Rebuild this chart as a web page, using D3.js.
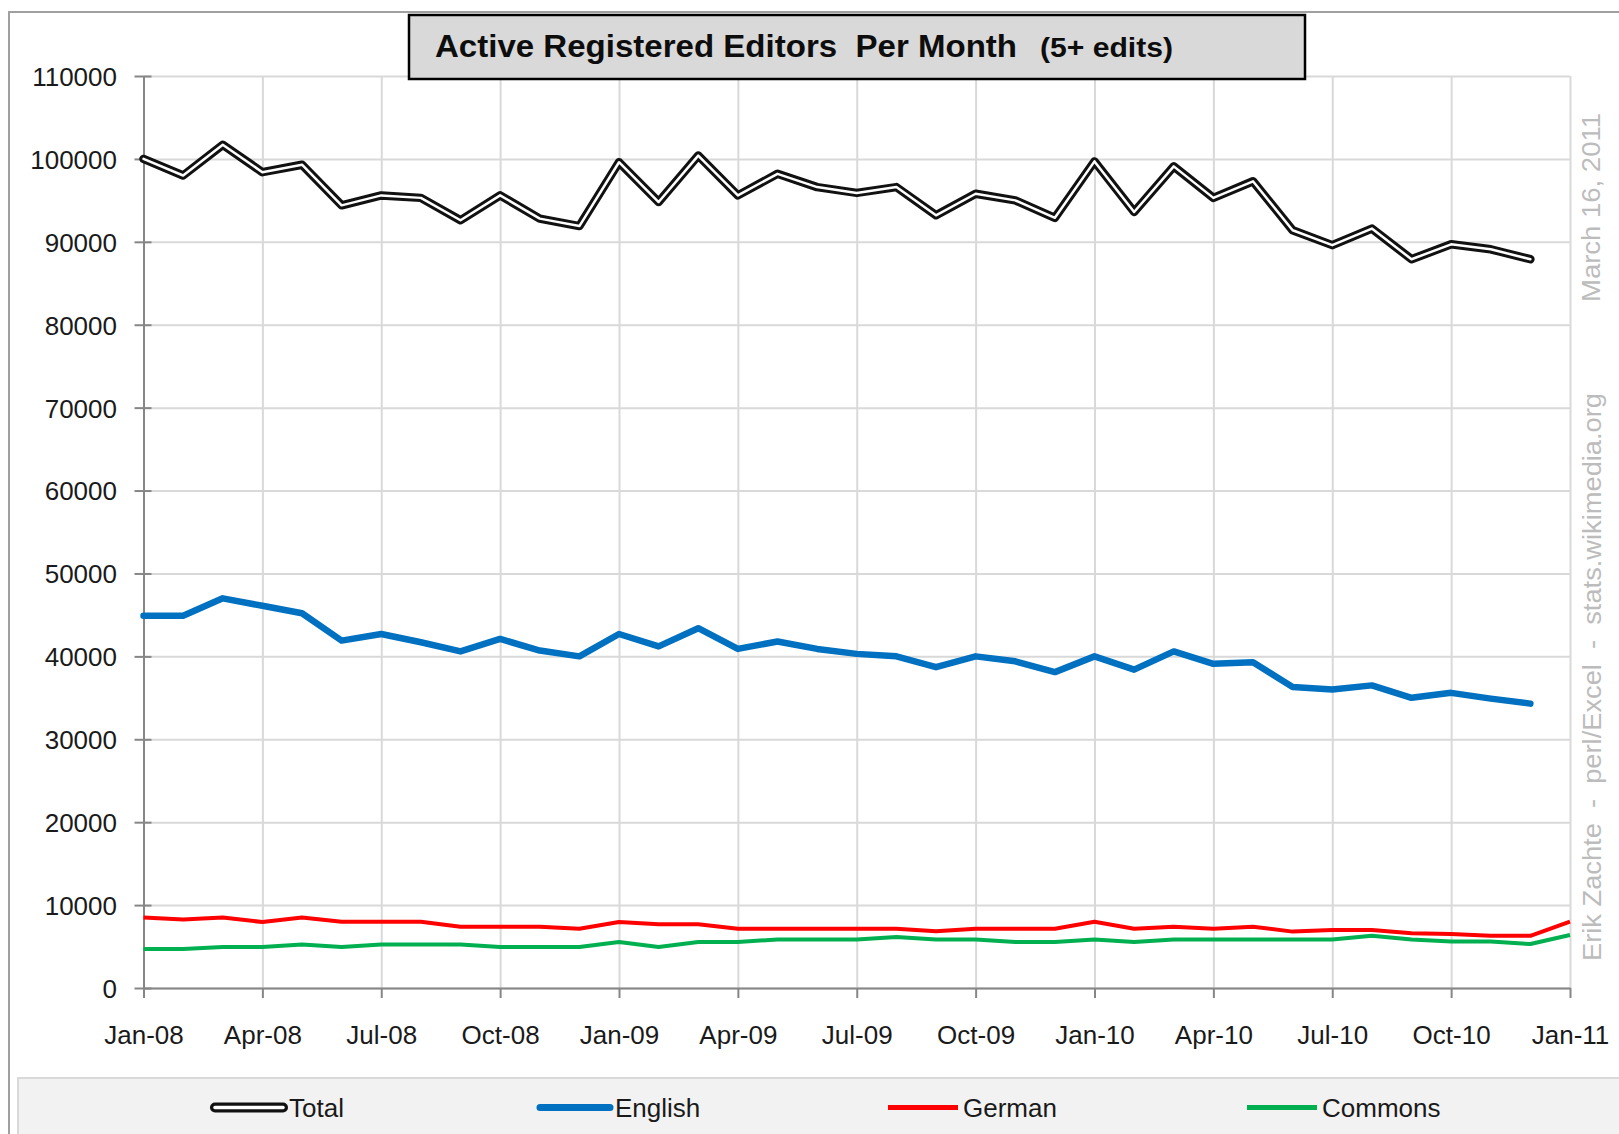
<!DOCTYPE html>
<html lang="en">
<head>
    <meta charset="UTF-8">
    <script src="https://d3js.org/d3.v7.min.js"></script>
    <style>
        body {margin: 0; background-color: #ffffff}
        svg {display: block}
        text {font-family: "Liberation Sans", Arial, sans-serif}
    </style>
</head>
<body>
<svg class="chart" width="1619" height="1134"></svg>
<script type="text/javascript">
    // month index 0 = Jan-08
    const tickLabels = ['Jan-08', 'Apr-08', 'Jul-08', 'Oct-08', 'Jan-09', 'Apr-09', 'Jul-09',
        'Oct-09', 'Jan-10', 'Apr-10', 'Jul-10', 'Oct-10', 'Jan-11'];
    const yTicks = [0, 10000, 20000, 30000, 40000, 50000, 60000, 70000, 80000, 90000, 100000, 110000];

    const total = [100000, 98000, 101700, 98400, 99300, 94400, 95600, 95300, 92600, 95600, 92800, 91900,
        99600, 94800, 100400, 95600, 98200, 96600, 95900, 96600, 93200, 95800, 95000, 92900,
        99700, 93600, 99100, 95300, 97300, 91400, 89600, 91600, 87900, 89700, 89100, 87900];
    const english = [44900, 44900, 47000, 46100, 45200, 41900, 42700, 41700, 40600, 42100, 40700, 40000,
        42700, 41200, 43400, 40900, 41800, 40900, 40300, 40000, 38700, 40000, 39400, 38100,
        40000, 38400, 40600, 39100, 39300, 36300, 36000, 36500, 35000, 35600, 34900, 34300];
    const german = [8500, 8250, 8500, 7950, 8500, 8000, 8000, 8000, 7400, 7400, 7400, 7150,
        7950, 7700, 7700, 7150, 7150, 7150, 7150, 7150, 6850, 7150, 7150, 7150,
        8000, 7150, 7400, 7150, 7400, 6800, 7000, 7000, 6600, 6500, 6300, 6300,
        8000];
    const commons = [4700, 4700, 4950, 4950, 5250, 4950, 5250, 5250, 5250, 4950, 4950, 4950,
        5550, 4950, 5550, 5550, 5850, 5850, 5850, 6150, 5850, 5850, 5550, 5550,
        5850, 5550, 5850, 5850, 5850, 5850, 5850, 6300, 5850, 5600, 5600, 5300,
        6400];

    const seriesNames = ['Total', 'English', 'German', 'Commons'];
    const seriesColors = ['#000000', '#0070c0', '#ff0000', '#00b050'];

    function draw() {
        let left = 143.5, right = 1570, bottom = 988, top = 76;

        var x = d3.scaleLinear().domain([0, 36]).range([left, right]);
        var y = d3.scaleLinear().domain([0, 110000]).range([bottom, top]);

        var svg = d3.select('.chart');

        // outer chart frame
        svg.append('rect').attr('x', 9).attr('y', 12).attr('width', 1700).attr('height', 1200)
            .attr('fill', '#ffffff').attr('stroke', '#a0a0a0').attr('stroke-width', 2);

        // grid
        svg.append('g').attr('transform', 'translate(0,' + bottom + ')')
            .call(d3.axisBottom(x).tickValues(d3.range(0, 37, 3)).tickSize(-(bottom - top)).tickFormat(''))
            .call(g => g.select('.domain').remove())
            .selectAll('line').attr('stroke', '#d9d9d9').attr('stroke-width', 2);
        svg.append('g').attr('transform', 'translate(' + left + ',0)')
            .call(d3.axisLeft(y).tickValues(yTicks).tickSize(-(right - left)).tickFormat(''))
            .call(g => g.select('.domain').remove())
            .selectAll('line').attr('stroke', '#d9d9d9').attr('stroke-width', 2);

        // axes
        var yAxis = svg.append('g').attr('transform', 'translate(' + left + ',0)')
            .call(d3.axisLeft(y).tickValues(yTicks).tickSize(9).tickPadding(17.5).tickSizeOuter(0)
                .tickFormat(d3.format('d')));
        yAxis.selectAll('line').attr('x1', 8);
        yAxis.selectAll('text').attr('font-size', 26).attr('fill', '#1a1a1a')
            .attr('font-family', '"Liberation Sans", Arial, sans-serif').attr('dy', '0.36em');

        var xAxis = svg.append('g').attr('transform', 'translate(0,' + bottom + ')')
            .call(d3.axisBottom(x).tickValues(d3.range(0, 37, 3)).tickSize(10).tickPadding(28).tickSizeOuter(0)
                .tickFormat((d, i) => tickLabels[i]));
        xAxis.selectAll('text').attr('font-size', 26).attr('fill', '#1a1a1a')
            .attr('font-family', '"Liberation Sans", Arial, sans-serif');

        svg.selectAll('.domain').attr('stroke', '#868686').attr('stroke-width', 2);
        yAxis.selectAll('.tick line').attr('stroke', '#868686').attr('stroke-width', 2);
        xAxis.selectAll('.tick line').attr('stroke', '#868686').attr('stroke-width', 2);

        var line = d3.line().x((d, i) => x(i)).y(d => y(d));

        var plot = svg.append('g').attr('fill', 'none').attr('stroke-linejoin', 'round');
        plot.append('path').datum(commons).attr('d', line).attr('stroke', seriesColors[3]).attr('stroke-width', 4);
        plot.append('path').datum(german).attr('d', line).attr('stroke', seriesColors[2]).attr('stroke-width', 4);
        plot.append('path').datum(english).attr('d', line).attr('stroke', seriesColors[1]).attr('stroke-width', 6.5)
            .attr('stroke-linecap', 'round');
        plot.append('path').datum(total).attr('d', line).attr('stroke', '#111111').attr('stroke-width', 8.5)
            .attr('stroke-linecap', 'round');
        plot.append('path').datum(total).attr('d', line).attr('stroke', '#ffffff').attr('stroke-width', 2.5)
            .attr('stroke-linecap', 'round');

        // title
        svg.append('rect').attr('x', 409).attr('y', 15).attr('width', 896).attr('height', 64)
            .attr('fill', '#d9d9d9').attr('stroke', '#000000').attr('stroke-width', 2.5);
        svg.append('text').attr('x', 435).attr('y', 57).attr('font-size', 32).attr('font-weight', 'bold')
            .attr('fill', '#0d0d0d').attr('textLength', 582).attr('lengthAdjust', 'spacingAndGlyphs')
            .style('white-space', 'pre').text('Active Registered Editors  Per Month');
        svg.append('text').attr('x', 1040).attr('y', 57).attr('font-size', 27).attr('font-weight', 'bold')
            .attr('fill', '#0d0d0d').attr('textLength', 133).attr('lengthAdjust', 'spacingAndGlyphs')
            .text('(5+ edits)');

        // side notes
        svg.append('text').attr('transform', 'translate(1600,302) rotate(-90)').attr('font-size', 26)
            .attr('fill', '#bcbcbc').attr('textLength', 189).attr('lengthAdjust', 'spacingAndGlyphs')
            .text('March 16, 2011');
        svg.append('text').attr('transform', 'translate(1601,961) rotate(-90)').attr('font-size', 26)
            .attr('fill', '#bcbcbc').attr('textLength', 568).attr('lengthAdjust', 'spacingAndGlyphs')
            .style('white-space', 'pre').text('Erik Zachte  -  perl/Excel  -  stats.wikimedia.org');

        // legend
        svg.append('rect').attr('x', 18).attr('y', 1078).attr('width', 1700).attr('height', 100)
            .attr('fill', '#f2f2f2').attr('stroke', '#d9d9d9').attr('stroke-width', 2);
        var legendX = [211, 540, 888, 1247];
        var legend = svg.append('g');
        seriesNames.forEach(function (name, i) {
            var g = legend.append('g').attr('transform', 'translate(' + legendX[i] + ',1107.5)');
            if (i === 0) {
                g.append('line').attr('x1', 4).attr('x2', 72).attr('stroke', '#111111')
                    .attr('stroke-width', 10).attr('stroke-linecap', 'round');
                g.append('line').attr('x1', 4).attr('x2', 72).attr('stroke', '#ffffff')
                    .attr('stroke-width', 3.5).attr('stroke-linecap', 'round');
            } else {
                g.append('line').attr('x1', 0).attr('x2', 70).attr('stroke', seriesColors[i])
                    .attr('stroke-width', i === 1 ? 7 : 5).attr('stroke-linecap', i === 1 ? 'round' : 'butt');
            }
            g.append('text').attr('x', i === 0 ? 78 : 75).attr('y', 9).attr('font-size', 26)
                .attr('fill', '#1a1a1a').text(name);
        });
    }
    draw();
</script>
</body>
</html>
